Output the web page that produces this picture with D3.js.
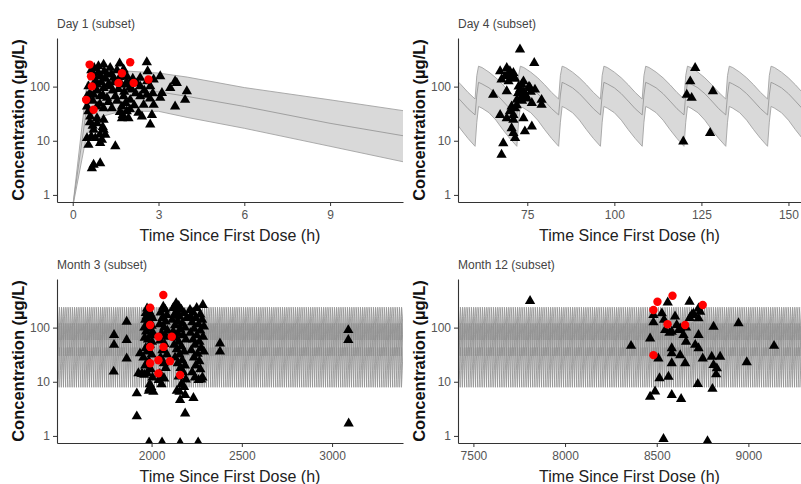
<!DOCTYPE html>
<html>
<head>
<meta charset="utf-8">
<script src="https://cdn.jsdelivr.net/npm/d3@7"></script>
<style>
  body { margin: 0; background: #fff; }
  svg { display: block; font-family: "Liberation Sans", Arial, sans-serif; }
</style>
</head>
<body>
<svg id="chart" width="801" height="484"></svg>
<script>
// ---- data ----
const panelTitles = ["Day 1 (subset)", "Day 4 (subset)", "Month 3 (subset)", "Month 12 (subset)"];
const yTicks = [1, 10, 100];
const day1XTicks = [0, 3, 6, 9];
const day4XTicks = [75, 100, 125, 150];
const month3XTicks = [2000, 2500, 3000];
const month12XTicks = [7500, 8000, 8500, 9000];

// single dose prediction band (day 1)
const day1BandTime   = [0, 0.5, 1, 1.5, 2, 2.5, 3, 4, 6, 9, 11.55];
const day1BandUpper  = [0.6, 120, 190, 195, 192, 185, 178, 150, 96, 57, 36];
const day1BandMedian = [0.6, 45, 75, 82, 83, 81, 80, 66, 43, 21, 12.4];
const day1BandLower  = [0.6, 14, 28, 33, 35, 35, 35, 27, 17, 7.9, 4.1];

// one 12 h dosing interval at steady state (hours after dose)
const dosingInterval = 12;
const ssProfileTime   = [0, 0.5, 1, 2, 4, 6, 8, 10, 12];
const ssProfileUpper  = [59, 160, 238, 225, 185, 145, 108, 78, 59];
const ssProfileMedian = [30, 70, 120, 112, 95, 74, 54, 39, 30];
const ssProfileLower  = [7.9, 22, 43, 40, 33, 24, 16, 11, 7.9];

// observations [time (h), concentration (ug/L)]
const day1Obs = [
  [0.90,238],[1.08,255],[1.31,222],[1.64,267],[1.78,207],[2.59,282],[2.62,192],
  [0.73,167],[0.96,155],[1.20,167],[1.43,145],[1.89,155],[2.36,145],[2.83,135],[3.06,155],[3.58,126],
  [0.55,101],[0.85,109],[1.08,94],[1.31,101],[1.84,109],[2.07,88],[2.36,101],[2.71,101],[3.41,94],[3.64,117],[3.99,82],
  [0.50,66],[0.73,71],[0.96,66],[1.20,62],[1.49,66],[1.78,66],[2.01,57],[2.36,66],[2.59,71],[3.06,62],[3.12,76],[3.93,57],
  [0.50,43],[0.85,43],[1.08,40],[1.37,40],[1.72,43],[1.89,35],[2.48,46],[2.83,46],[3.58,43],
  [0.61,28],[0.85,26],[1.08,24.5],[1.72,26],[1.95,26],[2.42,28],[2.77,30],
  [0.73,16],[1.08,16],[2.71,20],
  [0.50,11.2],[0.79,11.2],[1.02,10.4],[1.14,12.9],
  [0.55,8.4],[0.96,9.1],[1.49,7.9],
  [0.73,3.6],[0.96,3.85],[0.67,3.1],
  [0.65,200],[0.75,220],[0.80,130],[0.90,180],[1.00,120],[1.10,190],[1.15,140],[1.25,110],[1.35,170],[1.45,120],
  [1.55,200],[1.60,90],[1.65,150],[1.70,110],[1.80,80],[1.90,120],[2.00,95],[2.10,140],[2.20,75],[2.25,115],
  [0.60,75],[0.70,55],[0.85,85],[0.95,48],[1.05,70],[1.25,52],[1.40,85],[1.55,55],[1.65,34],[1.75,30],
  [1.85,50],[2.00,38],[2.15,45],[2.30,33],[2.50,85],[2.60,125],[2.70,60],[2.80,75],
  [0.55,35],[0.60,22],[0.70,19],[0.85,21],[0.95,13],[1.05,18],[0.65,12]
];
const day1Red = [
  [0.59,255],[2.01,282],[1.60,117],[2.13,117],[2.65,135],[0.73,37.5],[0.64,155],[1.72,177],[0.67,101],[0.47,57]
];

const day4Obs = [
  [72.9,484],[77.0,274],[67.2,192],[69.1,221],[70.0,192],[71.0,179],[68.6,155],[67.6,135],[69.6,125],[73.9,125],
  [73.4,109],[65.2,71],[69.1,82],[75.8,94],[77.2,88],[72.4,76],[73.4,66],[72.0,57],[76.3,50],[79.1,57],
  [79.1,46],[70.5,43],[71.5,40],[67.2,30],[69.1,26],[71.0,24.5],[73.9,26],[70.5,17],[76.3,18.4],[74.3,14.9],
  [71.0,13.9],[71.5,11.2],[68.1,9.0],[67.6,5.5],
  [69.5,170],[70.5,150],[71.5,140],[72.5,100],[73.0,90],[74.0,80],[74.5,70],[75.0,60],[73.5,55],[72.0,45],
  [70.0,35],[71.0,30],[75.5,100],[76.0,80],
  [123.2,221],[121.8,125],[120.8,71],[122.2,62],[128.3,82],[127.5,13.9],[119.8,9.7]
];
const day4Red = [];

const month3Obs = [
  [1792,73],[1792,48],[1790,15.4],[1862,128],[1862,59],[1862,27],[1927,14.4],[1918,6.1],[1918,2.3],[1936,33.5],[1945,14],
  [1975,226],[1985,205],[1968,185],[1995,175],[1972,160],[2005,150],[1965,140],[1990,130],[1978,118],[2000,108],
  [1960,100],[1985,95],[1970,85],[2008,80],[1995,72],[1962,65],[1980,60],[2002,55],[1990,48],[1968,42],
  [1975,36],[2000,32],[1955,28],[1985,24],[1965,20],[1995,17],[1975,14.5],[1948,14],[1960,13.5],[2005,12],
  [1990,9],[1998,8],[2010,6.5],[1985,6.8],[1988,7.5],
  [2065,243],[2075,215],[2050,190],[2085,170],[2060,150],[2078,130],[2045,115],[2070,100],[2088,88],[2055,78],
  [2080,68],[2048,58],[2072,50],[2060,38],[2085,32],[2050,28],[2068,22],[2078,18],[2045,14],[2062,12],
  [2040,10.8],[2055,9],[2070,11.5],
  [2136,281],[2150,250],[2120,230],[2165,215],[2140,195],[2180,185],[2125,170],[2155,160],[2195,150],[2115,140],
  [2145,130],[2170,120],[2130,110],[2185,100],[2160,92],[2120,85],[2145,78],[2175,72],[2135,65],[2190,60],
  [2150,55],[2125,48],[2165,45],[2140,40],[2180,36],[2155,32],[2130,28],[2170,25],[2145,22],[2185,20],
  [2160,18],[2175,15],[2150,12.5],[2190,11],[2165,9],[2180,8],[2155,6.5],[2186,5.7],[2158,4.6],[2186,2.6],[2140,6.8],
  [2284,261],[2213,211],[2250,230],[2230,190],[2270,175],[2215,160],[2245,150],[2280,140],[2225,125],[2260,115],
  [2290,105],[2235,95],[2270,88],[2215,80],[2250,72],[2285,68],[2230,60],[2265,55],[2240,48],[2275,42],
  [2220,38],[2255,33],[2290,36],[2235,28],[2265,24],[2245,20],[2270,17],[2225,15],[2282,12],[2260,10.8],
  [2232,5],[2240,12],[2275,11],
  [2379,51],[2379,36],[3090,90],[3090,59],[3092,1.7],
  [1986,0.76],[2058,0.76],[2158,0.74],[2258,0.76]
];
const month3Red = [
  [2065,399],[1992,233],[1992,112],[2038,68],[2112,68],[2066,44],[1992,44],[2038,25],[1992,22],[2102,24],[2038,14.3],[2158,13.3]
];

const month12Obs = [
  [7809,310],
  [8560,292],[8679,301],[8728,226],[8737,197],[8691,171],[8528,183],[8482,171],[8482,125],[8728,148],[8609,112],
  [8546,90],[8582,84],[8628,97],[8646,73],[8660,55],[8728,73],[8710,48],[8728,41.5],[8464,63],[8360,46],
  [8582,41.5],[8582,33.5],[8628,31],[8509,27],[8582,22],[8655,22],[8751,27],[8800,29],[8846,29],[8810,20.4],
  [8828,17.7],[8824,13.7],[8810,104],[8946,120],[9140,46],[8991,22.9],[8515,11.6],[8564,12.4],[8491,6.6],
  [8464,5.3],[8582,5.7],[8633,4.8],[8724,9.1],[8804,7.4],
  [8600,160],[8620,90],[8680,150],[8700,180],[8660,100],[8540,140],[8570,80],
  [8537,0.88],[8777,0.8]
];
const month12Red = [
  [8586,388],[8504,301],[8751,261],[8482,211],[8559,115],[8655,112],[8482,31]
];

// ---- layout ----
const svg = d3.select("#chart");

const panels = [
  { title: panelTitles[0], x0: 57,  x1: 403, y0: 38,  y1: 202, dom: [-0.55, 11.55], ticks: day1XTicks,    obs: day1Obs,    red: day1Red,    band: "single" },
  { title: panelTitles[1], x0: 458, x1: 801, y0: 38,  y1: 202, dom: [55.1, 153.6],  ticks: day4XTicks,    obs: day4Obs,    red: day4Red,    band: "multi" },
  { title: panelTitles[2], x0: 57,  x1: 403, y0: 279, y1: 443, dom: [1476, 3393],   ticks: month3XTicks,  obs: month3Obs,  red: month3Red,  band: "multi" },
  { title: panelTitles[3], x0: 458, x1: 801, y0: 279, y1: 443, dom: [7416, 9287],   ticks: month12XTicks, obs: month12Obs, red: month12Red, band: "multi" }
];

function bandPoints(p) {
  if (p.band === "single") {
    return day1BandTime.map((t, i) => ({ t: t, up: day1BandUpper[i], med: day1BandMedian[i], lo: day1BandLower[i] }));
  }
  // repeat the steady-state interval at every dose across the panel
  const first = Math.floor(p.dom[0] / dosingInterval) * dosingInterval;
  const doses = d3.range(first, p.dom[1] + dosingInterval, dosingInterval);
  const pts = [];
  doses.forEach(d => {
    ssProfileTime.forEach((t, i) => {
      pts.push({ t: d + t, up: ssProfileUpper[i], med: ssProfileMedian[i], lo: ssProfileLower[i] });
    });
  });
  return pts;
}

const tri = d3.symbol().type(d3.symbolTriangle).size(46);

panels.forEach((p, k) => {
  const x = d3.scaleLinear().domain(p.dom).range([p.x0, p.x1]);
  const y = d3.scaleLog().domain([0.74, 790]).range([p.y1, p.y0]);
  const dense = (p.x1 - p.x0) / (p.dom[1] - p.dom[0]) * dosingInterval < 10;

  const clipId = "clip" + k;
  svg.append("clipPath").attr("id", clipId)
    .append("rect").attr("x", p.x0).attr("y", p.y0).attr("width", p.x1 - p.x0).attr("height", p.y1 - p.y0);

  const g = svg.append("g").attr("clip-path", "url(#" + clipId + ")");

  const pts = bandPoints(p);

  g.append("path").datum(pts)
    .attr("d", d3.area().x(d => x(d.t)).y0(d => y(d.lo)).y1(d => y(d.up)))
    .attr("fill", dense ? "#cfcfcf" : "#d9d9d9");

  ["up", "med", "lo"].forEach(key => {
    g.append("path").datum(pts)
      .attr("d", d3.line().x(d => x(d.t)).y(d => y(d[key])))
      .attr("fill", "none")
      .attr("stroke", dense ? "#8f8f8f" : (key === "med" ? "#999" : "#a3a3a3"))
      .attr("stroke-width", dense ? 0.8 : 0.9);
  });

  g.selectAll(".obs").data(p.obs).enter().append("path")
    .attr("transform", d => "translate(" + x(d[0]) + "," + y(d[1]) + ")")
    .attr("d", tri)
    .attr("fill", "#000");

  g.selectAll(".red").data(p.red).enter().append("circle")
    .attr("cx", d => x(d[0])).attr("cy", d => y(d[1]))
    .attr("r", 4.2).attr("fill", "#ff0000");

  // axes
  const ax = svg.append("g").attr("transform", "translate(0," + p.y1 + ")")
    .call(d3.axisBottom(x).tickValues(p.ticks).tickSize(4).tickSizeOuter(0).tickPadding(4).tickFormat(d3.format("d")));
  const ay = svg.append("g").attr("transform", "translate(" + p.x0 + ",0)")
    .call(d3.axisLeft(y).tickValues(yTicks).tickSize(4).tickSizeOuter(0).tickPadding(3).tickFormat(d3.format("d")));
  [ax, ay].forEach(a => {
    a.select(".domain").attr("stroke", "#333").attr("stroke-width", 1.1);
    a.selectAll(".tick line").attr("stroke", "#333");
    a.selectAll(".tick text").attr("fill", "#555").style("font-size", "12px").style("font-family", "Liberation Sans, Arial, sans-serif");
  });

  svg.append("text")
    .attr("x", p.x0).attr("y", p.y0 - 10)
    .attr("fill", "#444").style("font-size", "12px")
    .text(p.title);

  svg.append("text")
    .attr("x", (p.x0 + p.x1) / 2 - (k % 2 === 1 ? 0 : 0))
    .attr("y", p.y1 + 38.5)
    .attr("text-anchor", "middle")
    .attr("fill", "#222").style("font-size", "16px")
    .text("Time Since First Dose (h)");

  svg.append("text")
    .attr("transform", "translate(" + (p.x0 - 33) + "," + ((p.y0 + p.y1) / 2) + ") rotate(-90)")
    .attr("text-anchor", "middle")
    .attr("fill", "#111").style("font-size", "16.5px").style("font-weight", "bold")
    .text("Concentration (µg/L)");
});
</script>
</body>
</html>
